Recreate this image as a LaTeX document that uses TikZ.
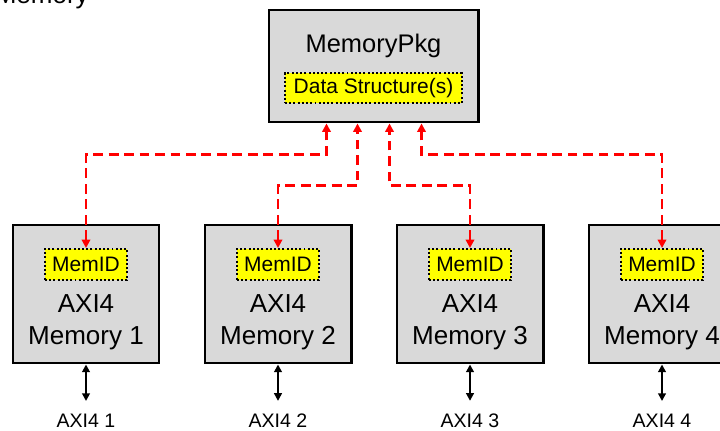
\documentclass[tikz,border=0pt]{standalone}
\usepackage{fontspec}
\setmainfont{Liberation Sans}
\usetikzlibrary{arrows.meta}
\definecolor{boxgray}{RGB}{217, 217, 217}
\definecolor{tagyellow}{RGB}{255, 255, 0}
\definecolor{linkred}{RGB}{255, 0, 0}

\tikzset{
    block/.style={draw=black, line width=2.1pt, fill=boxgray, inner sep=0pt},
    tag/.style={%
        draw=black, line width=1.4pt, dash pattern=on 1.4pt off 1.6pt,
        fill=tagyellow, inner sep=0pt, minimum height=0.775cm,
        font=\fontsize{14.9}{17}\selectfont
    },
    link/.style={%
        linkred, line width=2pt, dash pattern=on 7pt off 4pt,
        {Triangle[length=6pt, width=6pt]}-{Triangle[length=6pt, width=6pt]}
    },
    bus/.style={%
        black, line width=1.8pt,
        {Triangle[length=5.5pt, width=5.5pt]}-{Triangle[length=5.5pt, width=5.5pt]}
    }
}

\begin{document}
\begin{tikzpicture}[x=0.025cm, y=-0.025cm]

    \useasboundingbox (0, 0) rectangle (720, 431);
    \clip (0, 0) rectangle (720, 431);

    \node[anchor=base east, inner sep=0pt, font=\fontsize{18.5}{22}\selectfont]
        (caption) at (89, 4) {Memory};

    % package with the shared data
    \node[block, minimum width=5.225cm, minimum height=2.8cm] (pkg) at (373.5, 66) {};
    \node[anchor=base, inner sep=0pt, font=\fontsize{18.1}{22}\selectfont]
        (pkgname) at (373.5, 52.7) {MemoryPkg};
    \node[tag, minimum width=4.425cm, minimum height=0.75cm] (ds) at (373.5, 88) {Data Structure(s)};

    \coordinate (p1) at ([xshift=-1.175cm]pkg.south);
    \coordinate (p2) at ([xshift=-0.4cm]pkg.south);
    \coordinate (p3) at ([xshift=0.4cm]pkg.south);
    \coordinate (p4) at ([xshift=1.2cm]pkg.south);

    \foreach \i/\x in {1/86, 2/278, 3/470, 4/662} {%
        \node[block, minimum width=3.65cm, minimum height=3.45cm] (mem\i) at (\x, 294) {};
        \node[tag, minimum width=2.05cm] (id\i) at (\x, 264.5) {MemID};
        \node[align=center, inner sep=0pt, font=\fontsize{18.5}{22.8}\selectfont]
            (name\i) at (\x, 322.5) {AXI4\\Memory \i};
        \node[inner sep=0pt, font=\fontsize{13.9}{16}\selectfont] (port\i) at (\x, 421) {AXI4 \i};
        \draw[bus, shorten >=0.325cm] (mem\i.south) -- (port\i.north);
    };

    \draw[link] (id1.north) |- ([yshift=-0.775cm]p1) -- (p1);
    \draw[link] (id2.north) |- ([yshift=-1.55cm]p2) -- (p2);
    \draw[link] (id3.north) |- ([yshift=-1.55cm]p3) -- (p3);
    \draw[link] (id4.north) |- ([yshift=-0.775cm]p4) -- (p4);

\end{tikzpicture}
\end{document}
